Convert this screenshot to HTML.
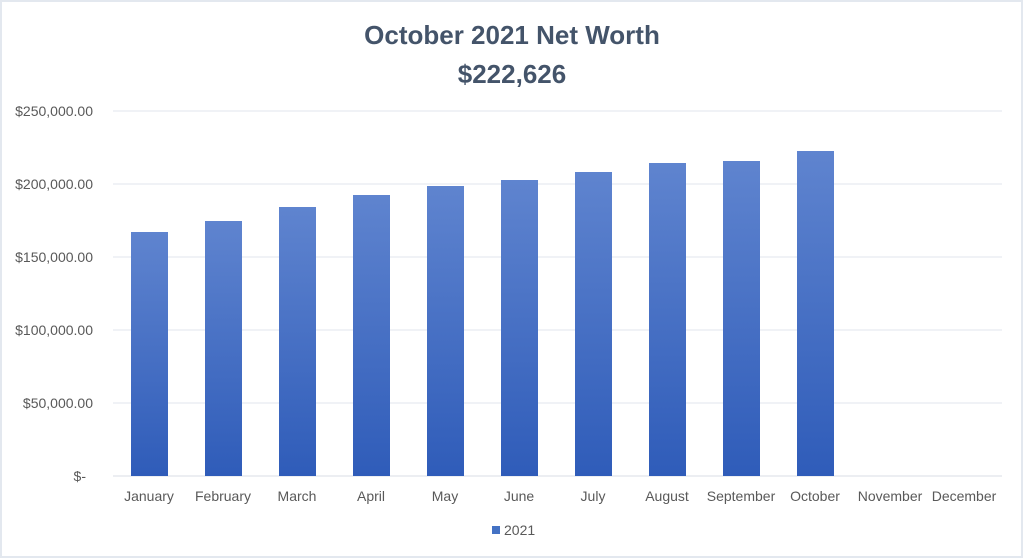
<!DOCTYPE html>
<html><head><style>
body{margin:0;background:#fff}
svg{display:block;font-family:"Liberation Sans",Calibri,sans-serif}
</style></head><body>
<svg width="1024" height="559" xmlns="http://www.w3.org/2000/svg">
<defs><linearGradient id="g" x1="0" y1="0" x2="0" y2="1">
<stop offset="0" stop-color="#5f84cf"/><stop offset="1" stop-color="#2f5cb9"/></linearGradient></defs>
<rect x="1" y="1" width="1021" height="556" fill="#fff" stroke="#e3e8ef" stroke-width="2"/>
<text x="512" y="44" text-anchor="middle" font-size="26" font-weight="bold" fill="#44546a">October 2021 Net Worth</text>
<text x="512" y="83" text-anchor="middle" font-size="26" font-weight="bold" fill="#44546a">$222,626</text>
<g stroke="#e2e6ee" stroke-width="1">
<line x1="113" x2="1002" y1="111" y2="111"/><line x1="113" x2="1002" y1="184" y2="184"/>
<line x1="113" x2="1002" y1="257" y2="257"/><line x1="113" x2="1002" y1="330" y2="330"/>
<line x1="113" x2="1002" y1="403" y2="403"/><line x1="113" x2="1002" y1="476" y2="476" stroke="#d9dde5"/>
</g>
<g font-size="14" fill="#595959" text-anchor="end">
<text x="93" y="116">$250,000.00</text><text x="93" y="189">$200,000.00</text>
<text x="93" y="262">$150,000.00</text><text x="93" y="335">$100,000.00</text>
<text x="93" y="408">$50,000.00</text><text x="86" y="481">$-</text>
</g>
<g fill="url(#g)">
<rect x="131" y="232" width="37" height="244"/>
<rect x="205" y="221" width="37" height="255"/>
<rect x="279" y="207" width="37" height="269"/>
<rect x="353" y="195" width="37" height="281"/>
<rect x="427" y="186" width="37" height="290"/>
<rect x="501" y="180" width="37" height="296"/>
<rect x="575" y="172" width="37" height="304"/>
<rect x="649" y="163" width="37" height="313"/>
<rect x="723" y="161" width="37" height="315"/>
<rect x="797" y="151" width="37" height="325"/>
</g>
<g font-size="14" fill="#595959" text-anchor="middle">
<text x="149" y="501">January</text><text x="223" y="501">February</text>
<text x="297" y="501">March</text><text x="371" y="501">April</text>
<text x="445" y="501">May</text><text x="519" y="501">June</text>
<text x="593" y="501">July</text><text x="667" y="501">August</text>
<text x="741" y="501">September</text><text x="815" y="501">October</text>
<text x="890" y="501">November</text><text x="964" y="501">December</text>
</g>
<rect x="492" y="526" width="8" height="8" fill="#4472c4"/>
<text x="504" y="535" font-size="14" fill="#595959">2021</text>
</svg>
</body></html>
